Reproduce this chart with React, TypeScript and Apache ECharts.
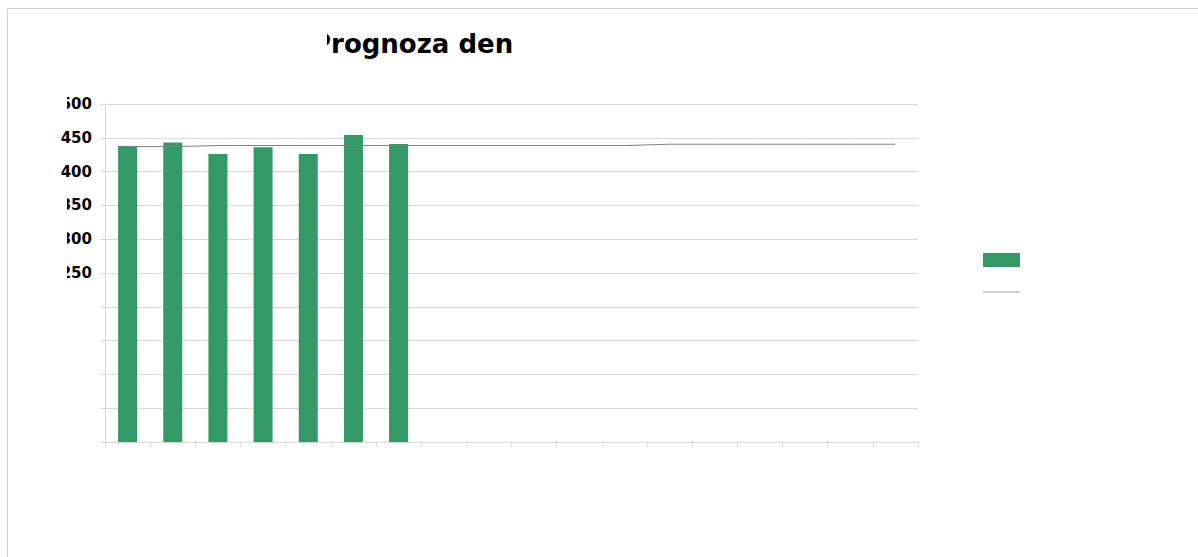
import React, { useEffect, useRef } from "react";
import * as echarts from "echarts";

const titleText = "Prognoza den";
const categories = ["1", "2", "3", "4", "5", "6", "7", "8", "9", "10", "11", "12", "13", "14", "15", "16", "17", "18"];
const actualName = "Skutečnost";
const forecastName = "Prognoza";
const actualValues: (number | null)[] = [438, 443, 426, 436, 426, 454, 441, null, null, null, null, null, null, null, null, null, null, null];
const forecastValues = [437, 437, 438.5, 438.5, 438.5, 438.5, 438.5, 438.5, 438.5, 438.5, 438.5, 438.5, 440.5, 440.5, 440.5, 440.5, 440.5, 440.5];
const yMin = 0;
const yMax = 500;
const yStep = 50;
const labelFrom = 250;
const clippedLabels = [500, 350, 300, 250];

export default function App() {
  const ref = useRef<HTMLDivElement>(null);
  useEffect(() => {
    if (!ref.current) return;
    const chart = echarts.init(ref.current, null, { renderer: "svg" });
    const gridTop = 104;
    const gridBottom = 442;
    const yPix = (v: number) => gridBottom - ((v - yMin) / (yMax - yMin)) * (gridBottom - gridTop);
    const masks = clippedLabels.map((v) => ({
      type: "rect",
      shape: { x: 52, y: yPix(v) - 8, width: 15, height: 16 },
      style: { fill: "#ffffff" },
      z: 100,
    }));
    chart.setOption({
      animation: false,
      backgroundColor: "#ffffff",
      textStyle: { fontFamily: "DejaVu Sans" },
      grid: { left: 105, right: 280, top: gridTop, bottom: 557 - gridBottom, containLabel: false },
      legend: {
        orient: "vertical",
        left: 978,
        top: 248,
        itemWidth: 37,
        itemHeight: 14,
        itemGap: 18,
        formatter: () => "",
        selectedMode: false,
        data: [
          { name: actualName, icon: "rect", itemStyle: { color: "#339966" } },
          { name: forecastName, icon: "path://M0,0h37v1.6h-37z", itemStyle: { color: "#c0c0c0" } },
        ],
      },
      xAxis: {
        type: "category",
        data: categories,
        boundaryGap: true,
        axisLine: { show: true, lineStyle: { color: "#d9d9d9", width: 1 } },
        axisTick: { show: true, length: 5, lineStyle: { color: "#d9d9d9" } },
        axisLabel: { show: false },
        splitLine: { show: false },
      },
      yAxis: {
        type: "value",
        min: yMin,
        max: yMax,
        interval: yStep,
        axisLine: { show: true, lineStyle: { color: "#d9d9d9", width: 1 } },
        axisTick: { show: true, length: 5, lineStyle: { color: "#d9d9d9" } },
        splitLine: { show: true, lineStyle: { color: "#d9d9d9", width: 1 } },
        axisLabel: {
          margin: 13,
          color: "#000000",
          fontFamily: "DejaVu Sans",
          fontWeight: "bold",
          fontSize: 15,
          formatter: (v: number) => (v >= labelFrom ? String(v) : ""),
        },
      },
      series: [
        {
          name: actualName,
          type: "bar",
          data: actualValues,
          barWidth: 19,
          itemStyle: { color: "#339966" },
          z: 2,
        },
        {
          name: forecastName,
          type: "line",
          data: forecastValues,
          symbol: "none",
          showSymbol: false,
          lineStyle: { color: "#7f7f7f", width: 1 },
          itemStyle: { color: "#7f7f7f" },
          z: 3,
        },
      ],
      graphic: [
        {
          type: "rect",
          shape: { x: 7.5, y: 8.5, width: 1300, height: 700 },
          style: { fill: "none", stroke: "#d0d0d0", lineWidth: 1 },
          silent: true,
          z: -1,
        },
        {
          type: "text",
          x: 312,
          y: 44,
          style: {
            text: titleText,
            fontFamily: "DejaVu Sans",
            fontWeight: "bold",
            fontSize: 26,
            fill: "#000000",
            verticalAlign: "middle",
            align: "left",
          },
          z: 90,
        },
        {
          type: "rect",
          shape: { x: 295, y: 22, width: 32, height: 42 },
          style: { fill: "#ffffff" },
          z: 100,
        },
        ...masks,
      ],
    });
    return () => chart.dispose();
  }, []);
  return <div ref={ref} style={{ position: "absolute", left: 0, top: 0, width: 1198, height: 557 }} />;
}
